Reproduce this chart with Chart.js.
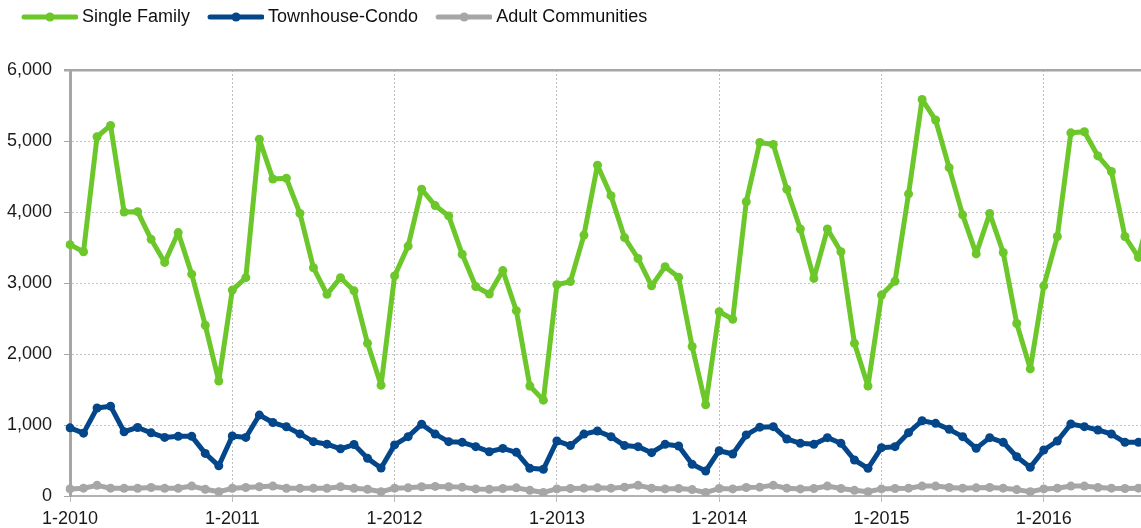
<!DOCTYPE html>
<html>
<head>
<meta charset="utf-8">
<script src="https://cdn.jsdelivr.net/npm/chart.js@4.4.1/dist/chart.umd.min.js"></script>
<style>
  html, body { margin: 0; padding: 0; background: #fff; overflow: hidden; }
  #wrap { width: 1160px; height: 528px; }
</style>
</head>
<body>
<div id="wrap"><canvas id="salesChart" width="1160" height="528"></canvas></div>
<script>
const years = [2010, 2011, 2012, 2013, 2014, 2015, 2016];
const monthsShown = 81; // Jan 2010 .. Sep 2016 (last one runs off the edge)

const singleFamily = [
  3540, 3440, 5060, 5220, 4000, 4005, 3615, 3290, 3710, 3125, 2405, 1620,
  2900, 3075, 5025, 4465, 4475, 3980, 3215, 2840, 3075, 2890, 2150, 1560,
  3100, 3520, 4320, 4090, 3945, 3405, 2950, 2845, 3175, 2610, 1550, 1350,
  2975, 3020, 3675, 4660, 4230, 3640, 3345, 2960, 3230, 3080, 2105, 1285,
  2595, 2490, 4145, 4980, 4950, 4320, 3760, 3065, 3760, 3440, 2150, 1550,
  2830, 3025, 4255, 5585, 5295, 4625, 3960, 3410, 3980, 3430, 2430, 1790,
  2960, 3655, 5115, 5130, 4790, 4570, 3655, 3360, 4100
];

const townhouseCondo = [
  960, 885, 1240, 1265, 905, 965, 890, 825, 840, 840, 600, 425,
  845, 825, 1140, 1035, 975, 875, 765, 730, 665, 725, 530, 395,
  720, 836, 1012, 872, 765, 756, 695, 624, 670, 615, 390, 376,
  775, 710, 872, 915, 836, 710, 695, 610, 728, 704, 446, 352,
  638, 592, 860, 970, 977, 803, 742, 728, 822, 742, 507, 390,
  681, 695, 892, 1060, 1023, 939, 836, 671, 822, 756, 554, 404,
  648, 775, 1014, 977, 930, 873, 756, 756, 790
];

const adultCommunities = [
  100, 110, 150, 110, 108, 108, 120, 108, 108, 140, 95, 60,
  108, 120, 130, 140, 108, 108, 110, 108, 130, 108, 95, 60,
  110, 115, 130, 135, 130, 125, 100, 95, 105, 115, 80, 50,
  100, 105, 110, 115, 110, 125, 150, 110, 100, 105, 90, 50,
  105, 100, 120, 125, 150, 110, 100, 105, 140, 105, 80, 60,
  100, 105, 110, 140, 140, 120, 110, 115, 120, 110, 90, 60,
  100, 110, 140, 140, 120, 110, 105, 110, 110
];

const yTicks = [0, 1000, 2000, 3000, 4000, 5000, 6000];

const seriesNames = ["Single Family", "Townhouse-Condo", "Adult Communities"];
const seriesColors = ["#6cc72a", "#03468a", "#a6a6a6"];

// month labels like "1-2010"
const labels = [];
years.forEach(y => {
  for (let m = 1; m <= 12; m++) labels.push(m + "-" + y);
});
labels.length = monthsShown;

const isJan = (i) => labels[i] && labels[i].split("-")[0] === "1";

// legend samples: thick line with a dot
function legendIcon(color) {
  const c = document.createElement("canvas");
  c.width = 71; c.height = 12;
  const g = c.getContext("2d");
  g.strokeStyle = color; g.lineWidth = 5; g.lineCap = "round";
  g.beginPath(); g.moveTo(17, 6); g.lineTo(69, 6); g.stroke();
  g.fillStyle = color;
  g.beginPath(); g.arc(43, 6, 4.5, 0, Math.PI * 2); g.fill();
  return c;
}
const legendIcons = seriesColors.map(legendIcon);

const legendSpacer = {
  id: "legendSpacer",
  beforeInit(chart) {
    const fit = chart.legend.fit;
    chart.legend.fit = function () {
      fit.call(this);
      this.height += 34;
    };
  }
};

Chart.defaults.font.family = "'Liberation Sans', Arial, Helvetica, sans-serif";
Chart.defaults.font.size = 18;
Chart.defaults.color = "#1a1a1a";

function lineSet(name, values, color) {
  return {
    label: name,
    data: values,
    borderColor: color,
    backgroundColor: color,
    borderWidth: 5,
    borderJoinStyle: "round",
    borderCapStyle: "round",
    pointRadius: 4.5,
    pointBorderWidth: 0,
    pointBackgroundColor: color,
    tension: 0,
    fill: false
  };
}

const data = {
  labels: labels,
  datasets: [
    lineSet(seriesNames[0], singleFamily, seriesColors[0]),
    lineSet(seriesNames[1], townhouseCondo, seriesColors[1]),
    lineSet(seriesNames[2], adultCommunities, seriesColors[2])
  ]
};

const config = {
  type: "line",
  data: data,
  plugins: [legendSpacer],
  options: {
    responsive: false,
    animation: false,
    devicePixelRatio: 1,
    layout: { padding: { left: 4, right: 8, top: 0, bottom: 0 } },
    plugins: {
      tooltip: { enabled: false },
      legend: {
        position: "top",
        align: "start",
        labels: {
          usePointStyle: true,
          pointStyleWidth: 61,
          padding: 8,
          color: "#111",
          font: { size: 18 },
          generateLabels(chart) {
            const items = Chart.defaults.plugins.legend.labels.generateLabels(chart);
            items.forEach((it, i) => { it.pointStyle = legendIcons[i]; });
            return items;
          }
        }
      }
    },
    scales: {
      x: {
        type: "category",
        offset: false,
        afterFit(s) { s.height = 32; },
        grid: {
          color: (c) => (c.tick && isJan(c.index) ? "#bdbdbd" : "rgba(0,0,0,0)"),
          tickColor: (c) => (c.tick && isJan(c.index) ? "#bdbdbd" : "rgba(0,0,0,0)"),
          lineWidth: 1,
          tickLength: 6
        },
        border: { display: true, color: "#b3b3b3", width: 2, dash: [2, 2] },
        ticks: {
          autoSkip: false,
          maxRotation: 0,
          padding: 6,
          font: { size: 18 },
          callback(v, i) { return isJan(i) ? labels[i] : ""; }
        }
      },
      y: {
        min: 0,
        max: 6000,
        afterFit(s) { s.width = 66; },
        afterBuildTicks(s) { s.ticks = yTicks.map(v => ({ value: v })); },
        grid: {
          color: (c) => (c.tick && c.tick.value === 6000 ? "#a6a6a6" : "#c4c4c4"),
          lineWidth: (c) => (c.tick && c.tick.value === 6000 ? 2.5 : 1),
          tickColor: "#a6a6a6",
          tickLength: 6
        },
        border: {
          display: true,
          color: "#a6a6a6",
          width: 3,
          dash: (c) => (c.tick && (c.tick.value === 6000 || c.tick.value === 0) ? [] : [2, 2])
        },
        ticks: {
          padding: 12,
          font: { size: 18 },
          callback: (v) => v.toLocaleString("en-US")
        }
      }
    }
  }
};

let myChart = new Chart(document.getElementById("salesChart"), config);
</script>
</body>
</html>
